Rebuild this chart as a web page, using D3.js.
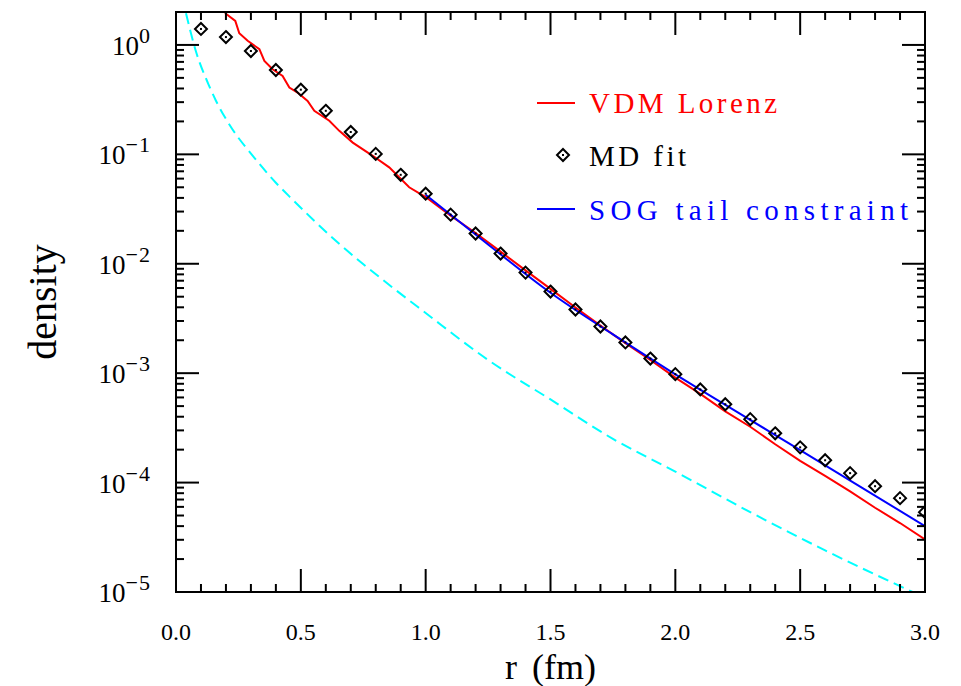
<!DOCTYPE html>
<html>
<head>
<meta charset="utf-8">
<script src="https://cdn.jsdelivr.net/npm/d3@7"></script>
<style>
  body { margin: 0; background: #fff; }
  text { font-family: "Liberation Serif", "DejaVu Serif", serif; }
</style>
</head>
<body>
<div id="chart"></div>
<script>
// MD fit (diamonds)
const mdR = [0.1, 0.2, 0.3, 0.4, 0.5, 0.6, 0.7, 0.8, 0.9, 1.0,
  1.1, 1.2, 1.3, 1.4, 1.5, 1.6, 1.7, 1.8, 1.9, 2.0,
  2.1, 2.2, 2.3, 2.4, 2.5, 2.6, 2.7, 2.8, 2.9, 3.0];
const mdDensity = [1.40, 1.18, 0.88, 0.59, 0.39, 0.25, 0.16, 0.101, 0.065, 0.0437,
  0.0281, 0.0189, 0.0124, 0.0083, 0.00557, 0.00382, 0.00267, 0.00191, 0.00136, 0.00098,
  0.00071, 0.00052, 0.00038, 0.000282, 0.00021, 0.00016, 0.000122, 0.0000927, 0.0000721, 0.0000537];

// VDM Lorenz (red)
const vdmR = [0.196, 0.2375, 0.2535, 0.287, 0.334, 0.354, 0.387, 0.427, 0.454, 0.487,
  0.527, 0.554, 0.614, 0.654, 0.708, 0.788, 0.854, 0.934, 1.0,
  1.1, 1.2, 1.3, 1.4, 1.5, 1.6, 1.7, 1.8, 1.9, 2.0,
  2.1, 2.2, 2.3, 2.4, 2.5, 2.6, 2.7, 2.8, 2.9, 3.0];
const vdmDensity = [1.96, 1.66, 1.28, 1.09, 0.914, 0.714, 0.600, 0.521, 0.408, 0.367,
  0.308, 0.250, 0.203, 0.164, 0.128, 0.097, 0.076, 0.050, 0.0407,
  0.0275, 0.0191, 0.0129, 0.0087, 0.00589, 0.00398, 0.00272, 0.00188, 0.00132, 0.000912,
  0.000646, 0.000447, 0.000324, 0.000224, 0.000158, 0.000115, 0.0000832, 0.0000589, 0.0000427, 0.0000302];

// SOG tail constraint (blue)
const sogR = [1.0, 1.25, 1.5, 1.75, 2.0, 2.25, 2.5, 2.75, 3.0];
const sogDensity = [0.0427, 0.0150, 0.00543, 0.00226, 0.000977, 0.000439, 0.000198, 0.0000891, 0.0000400];

// unlabeled cyan dashed curve
const cyanR = [0.04, 0.08, 0.13, 0.16, 0.22, 0.31, 0.40, 0.47, 0.64, 0.83,
  1.0, 1.25, 1.5, 1.75, 2.0, 2.3, 2.6, 2.95];
const cyanDensity = [1.95, 0.87, 0.437, 0.309, 0.178, 0.0955, 0.055, 0.038, 0.0162, 0.00708,
  0.00355, 0.00132, 0.000575, 0.000251, 0.000126, 0.0000537, 0.000024, 0.0000100];

const xTicks = [0.0, 0.5, 1.0, 1.5, 2.0, 2.5, 3.0];
const yTickExp = [0, -1, -2, -3, -4, -5];

const legendLabels = ["VDM Lorenz", "MD fit", "SOG tail constraint"];

const width = 961, height = 686;
const margin = { top: 12, right: 36, bottom: 94, left: 176 };

const svg = d3.select("#chart").append("svg")
  .attr("width", width)
  .attr("height", height);

const x = d3.scaleLinear().domain([0, 3]).range([margin.left, width - margin.right]);
const y = d3.scaleLog().domain([1e-5, 2]).range([height - margin.bottom, margin.top]);

svg.append("clipPath").attr("id", "clip")
  .append("rect")
  .attr("x", x(0)).attr("y", y(2))
  .attr("width", x(3) - x(0)).attr("height", y(1e-5) - y(2));

const plot = svg.append("g").attr("clip-path", "url(#clip)");

const line = d3.line()
  .x(d => x(d[0]))
  .y(d => y(d[1]))
  .curve(d3.curveMonotoneX);

plot.append("path")
  .datum(d3.zip(cyanR, cyanDensity))
  .attr("fill", "none")
  .attr("stroke", "#00ffff")
  .attr("stroke-width", 2)
  .attr("stroke-dasharray", "11,6")
  .attr("d", line);

plot.append("path")
  .datum(d3.zip(vdmR, vdmDensity))
  .attr("fill", "none")
  .attr("stroke", "#ff0000")
  .attr("stroke-width", 2)
  .attr("d", d3.line().x(d => x(d[0])).y(d => y(d[1])));

plot.append("path")
  .datum(d3.zip(sogR, sogDensity))
  .attr("fill", "none")
  .attr("stroke", "#0000ff")
  .attr("stroke-width", 2)
  .attr("d", line);

function diamond(g, cx, cy) {
  g.append("path")
    .attr("d", `M${cx},${cy - 6}L${cx + 6},${cy}L${cx},${cy + 6}L${cx - 6},${cy}Z`)
    .attr("fill", "none")
    .attr("stroke", "#000")
    .attr("stroke-width", 2);
  g.append("rect")
    .attr("x", cx - 1).attr("y", cy - 1)
    .attr("width", 2).attr("height", 2)
    .attr("fill", "#000");
}

const pts = plot.append("g");
d3.zip(mdR, mdDensity).forEach(d => diamond(pts, x(d[0]), y(d[1])));

// axes: ticks inside on all four sides
const axes = svg.append("g").attr("stroke", "#000").attr("stroke-width", 2);
const x0 = x(0), x1 = x(3), yb = y(1e-5), yt = y(2);

const xMinor = d3.range(0, 31).map(i => i / 10);
xMinor.forEach(v => {
  const major = Math.abs(v * 2 - Math.round(v * 2)) < 1e-9;
  const len = major ? 23 : 8;
  axes.append("line").attr("x1", x(v)).attr("x2", x(v)).attr("y1", yb).attr("y2", yb - len);
  axes.append("line").attr("x1", x(v)).attr("x2", x(v)).attr("y1", yt).attr("y2", yt + len);
});

const yMinor = [];
for (let e = -5; e <= 0; e++) {
  for (let m = 1; m <= 9; m++) {
    const v = m * Math.pow(10, e);
    if (v <= 2.0001) yMinor.push({ v, major: m === 1 });
  }
}
yMinor.forEach(t => {
  const len = t.major ? 23 : 8;
  axes.append("line").attr("x1", x0).attr("x2", x0 + len).attr("y1", y(t.v)).attr("y2", y(t.v));
  axes.append("line").attr("x1", x1).attr("x2", x1 - len).attr("y1", y(t.v)).attr("y2", y(t.v));
});

svg.append("rect")
  .attr("x", x0).attr("y", yt)
  .attr("width", x1 - x0).attr("height", yb - yt)
  .attr("fill", "none").attr("stroke", "#000").attr("stroke-width", 2);

// tick labels
svg.append("g").selectAll("text")
  .data(xTicks)
  .join("text")
  .attr("x", d => x(d))
  .attr("y", 640)
  .attr("text-anchor", "middle")
  .attr("font-size", 24)
  .text(d => d.toFixed(1));

const yl = svg.append("g").selectAll("text")
  .data(yTickExp)
  .join("text")
  .attr("x", 151)
  .attr("y", d => y(Math.pow(10, d)) + 10)
  .attr("text-anchor", "end")
  .attr("font-size", 27);
yl.append("tspan").text("10");
yl.append("tspan")
  .attr("dy", -12)
  .attr("font-size", 22)
  .attr("letter-spacing", 1)
  .text(d => d === 0 ? "0" : "\u2212" + (-d));

// axis titles
svg.append("text")
  .attr("x", (x0 + x1) / 2)
  .attr("y", 679)
  .attr("text-anchor", "middle")
  .attr("font-size", 36)
  .attr("word-spacing", 6)
  .text("r (fm)");

svg.append("text")
  .attr("transform", `translate(56,${(yt + yb) / 2}) rotate(-90)`)
  .attr("text-anchor", "middle")
  .attr("font-size", 40)
  .text("density");

// legend
const lg = svg.append("g");
lg.append("line").attr("x1", 537).attr("x2", 575).attr("y1", 103).attr("y2", 103)
  .attr("stroke", "#ff0000").attr("stroke-width", 2);
lg.append("text").attr("x", 589).attr("y", 113).attr("font-size", 29).attr("fill", "#ff0000")
  .attr("textLength", 188).attr("lengthAdjust", "spacing").text(legendLabels[0]);
diamond(lg, 563, 155);
lg.append("text").attr("x", 589).attr("y", 166).attr("font-size", 29).attr("fill", "#000")
  .attr("textLength", 97).attr("lengthAdjust", "spacing").text(legendLabels[1]);
lg.append("line").attr("x1", 537).attr("x2", 575).attr("y1", 209).attr("y2", 209)
  .attr("stroke", "#0000ff").attr("stroke-width", 2);
lg.append("text").attr("x", 589).attr("y", 220).attr("font-size", 29).attr("fill", "#0000ff")
  .attr("textLength", 319).attr("lengthAdjust", "spacing").text(legendLabels[2]);
</script>
</body>
</html>
